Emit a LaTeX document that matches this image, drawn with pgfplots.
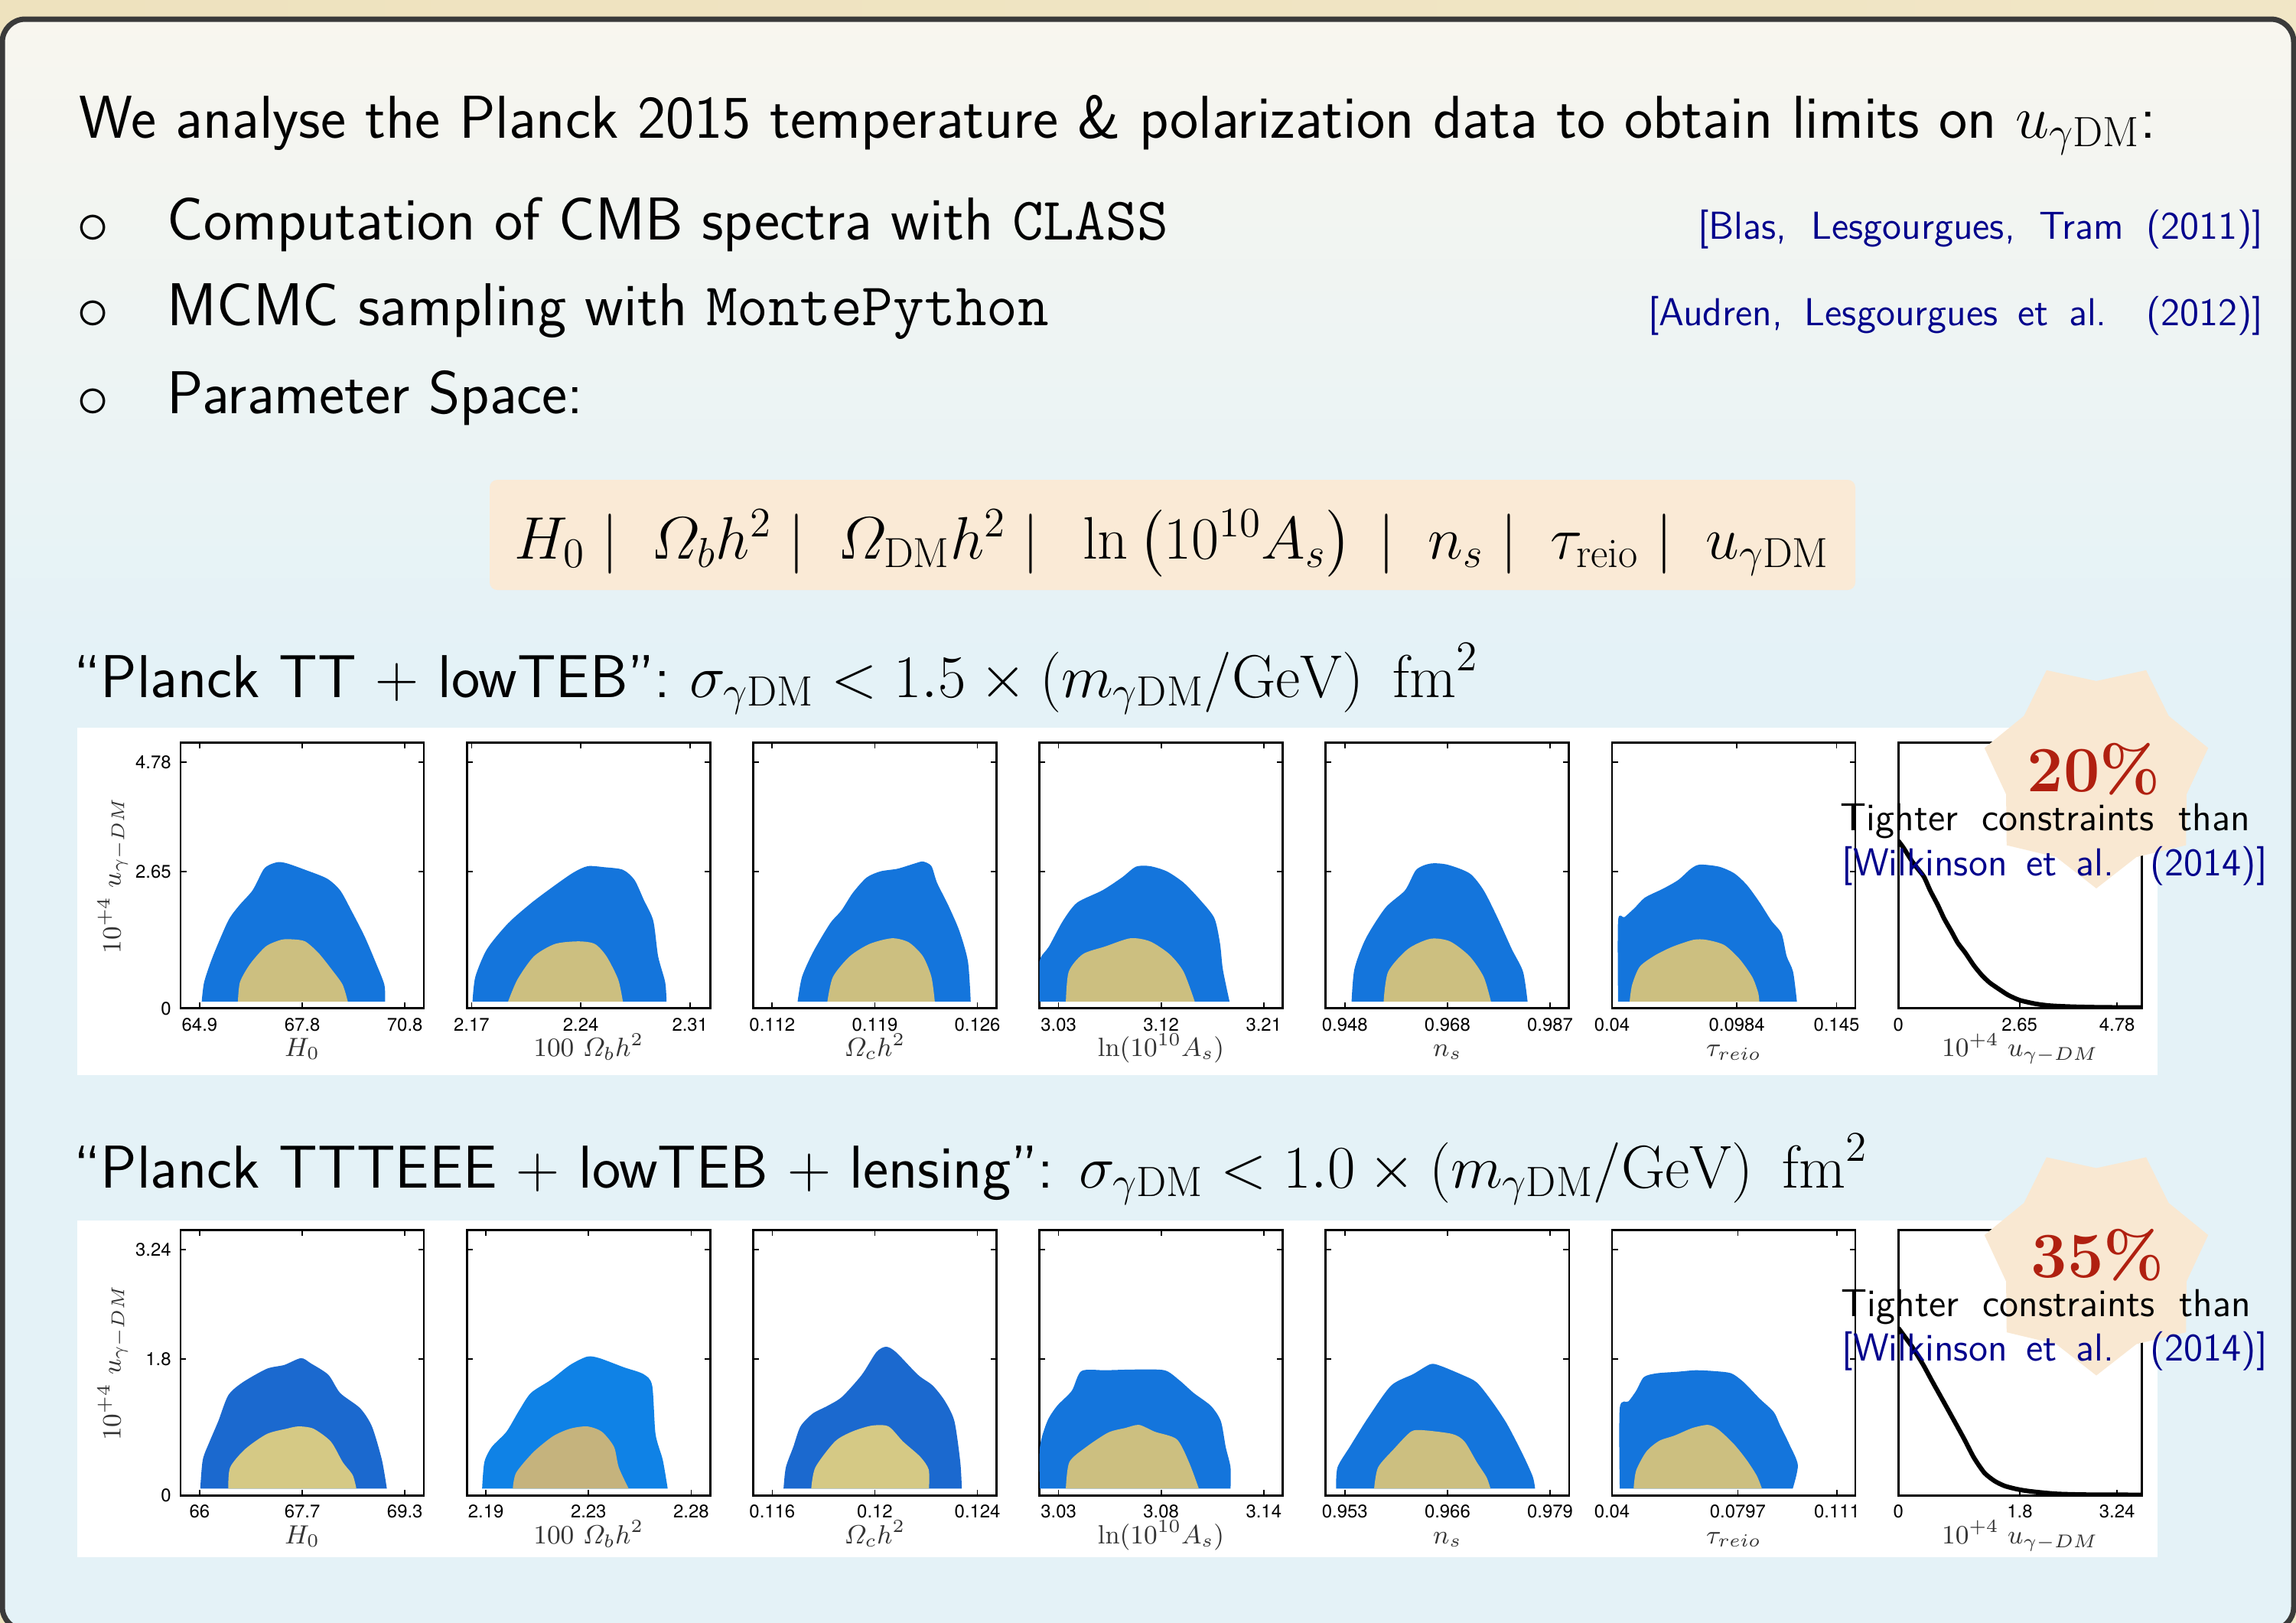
\RequirePackage{fix-cm}
\documentclass[border=0pt]{standalone}
\usepackage{amsmath}
\usepackage{fontspec}
\usepackage{pgfplots}
\pgfplotsset{compat=1.18}
\newfontfamily\tickfont{TeX Gyre Heros}

\definecolor{framegray}{HTML}{3A3A3A}
\definecolor{citeblue}{HTML}{00008C}
\definecolor{peach}{HTML}{FAEAD6}
\definecolor{starpeach}{HTML}{F9E8D2}
\definecolor{pctred}{HTML}{B02010}
\definecolor{labgray}{HTML}{333333}
\definecolor{bgA}{HTML}{EEE2BE}
\definecolor{bgB}{HTML}{DDECEF}
\definecolor{bgC}{HTML}{F1E6C6}
\definecolor{bgcream}{HTML}{F8F6EF}
\definecolor{bgblue}{HTML}{E4F2F7}
% contour colours
\definecolor{cblue}{HTML}{1475DC}
\definecolor{ctan}{HTML}{CCBF80}
\definecolor{cblueD}{HTML}{1B69CF}
\definecolor{ctanL}{HTML}{D5C985}
\definecolor{cblueL}{HTML}{0F82E6}
\definecolor{ctanD}{HTML}{C5B37D}

\newcommand{\mainfnt}{\sffamily\fontsize{22.5}{27}\selectfont}
\newcommand{\citefnt}{\sffamily\fontsize{14.5}{17}\selectfont}
\newcommand{\boxfnt}{\fontsize{22.3}{27}\selectfont}
\newcommand{\pctfnt}{\rmfamily\bfseries\fontsize{24}{26}\selectfont}
\newcommand{\tickfnt}{\tickfont\fontsize{6.8}{8}\selectfont}
\newcommand{\labfnt}{\fontsize{9.8}{11}\selectfont}
\newcommand{\bul}{\fontsize{24}{24}\selectfont$\circ$}

\pgfplotsset{
  panel/.style={
    anchor=north west, scale only axis, width=3.18cm, height=3.47cm,
    axis background/.style={fill=white},
    axis line style={line width=0.75pt, black},
    every tick/.append style={line width=0.5pt, black},
    major tick length=0.075cm,
    tick align=inside,
    ymin=0,
    yticklabels={,,},
    xticklabel style={font=\tickfnt},
    yticklabel style={font=\tickfnt},
    every axis x label/.append style={font=\labfnt, text=labgray, inner sep=1pt, text height=7pt, text depth=2.5pt},
    every axis y label/.append style={font=\labfnt, text=labgray},
    xlabel shift=-2pt, ylabel shift=-4pt,
  },
  rowA/.style={ymax=5.155, ytick={0,2.65,4.78}},
  rowB/.style={ymax=3.50, ytick={0,1.8,3.24}},
  post/.style={ymax=1.3, ytick=\empty, xmin=0},
  c95/.style={draw=none, fill=#1, smooth, tension=0.45},
  c68/.style={draw=none, fill=#1, smooth, tension=0.45},
  pline/.style={black, line width=1.7pt, smooth, tension=0.4},
}

\begin{document}
\begin{tikzpicture}
\useasboundingbox (0,0) rectangle (30.01,-21.21);
\clip (0,0) rectangle (30.01,-21.21);

% backdrop and slide frame
\shade[left color=bgA, middle color=bgB, right color=bgC] (0,0) rectangle (30.01,-21.21);
\fill[bgblue, rounded corners=0.3cm] (0.03,-0.25) rectangle (29.98,-21.30);
\shade[top color=bgcream, bottom color=bgblue, rounded corners=0.3cm] (0.03,-0.25) rectangle (29.98,-8.6);
\draw[framegray, line width=0.07cm, rounded corners=0.3cm] (0.03,-0.25) rectangle (29.98,-21.30);

% text block
\node[anchor=base west, inner sep=0] at (1.03,-1.80) {\mainfnt We analyse the Planck 2015 temperature \& polarization data to obtain limits on $u_{\gamma\mathrm{DM}}$:};

\node[inner sep=0] at (1.22,-3.00) {\bul};
\node[anchor=base west, inner sep=0] at (2.18,-3.13) {\mainfnt Computation of CMB spectra with \texttt{CLASS}};
\node[inner sep=0] at (1.22,-4.12) {\bul};
\node[anchor=base west, inner sep=0] at (2.18,-4.25) {\mainfnt MCMC sampling with \texttt{MontePython}};
\node[inner sep=0] at (1.22,-5.27) {\bul};
\node[anchor=base west, inner sep=0] at (2.18,-5.40) {\mainfnt Parameter Space:};

\node[anchor=base east, inner sep=0, text=citeblue] at (29.59,-3.12) {\citefnt\makebox[7.39cm][s]{[Blas, Lesgourgues, Tram (2011)]}};
\node[anchor=base east, inner sep=0, text=citeblue] at (29.59,-4.25) {\citefnt\makebox[8.04cm][s]{[Audren, Lesgourgues et al. (2012)]}};

% parameter box
\fill[peach, rounded corners=0.1cm] (6.40,-6.27) rectangle (24.25,-7.71);
\node[anchor=base, inner sep=0] at (15.32,-7.30) {\boxfnt $H_0\;|\;\;\varOmega_b h^2\;|\;\;\varOmega_{\mathrm{DM}}h^2\;|\;\;\ln\left(10^{10}A_s\right)\;|\;\;n_s\;|\;\;\tau_{\mathrm{reio}}\;|\;\;u_{\gamma\mathrm{DM}}$};

% headings
\node[anchor=base west, inner sep=0] at (0.96,-9.11) {\mainfnt ``Planck TT $+$ lowTEB'': $\sigma_{\gamma\mathrm{DM}}<1.5\times\left(m_{\gamma\mathrm{DM}}/\mathrm{GeV}\right)\ \mathrm{fm}^2$};
\node[anchor=base west, inner sep=0] at (0.96,-15.52) {\mainfnt ``Planck TTTEEE $+$ lowTEB $+$ lensing'': $\sigma_{\gamma\mathrm{DM}}<1.0\times\left(m_{\gamma\mathrm{DM}}/\mathrm{GeV}\right)\ \mathrm{fm}^2$};

% white panels behind the triangle rows
\fill[white] (1.01,-9.51) rectangle (28.20,-14.05);
\fill[white] (1.01,-15.95) rectangle (28.20,-20.35);

%%%%%%%%%%%%%%%% Row 1: Planck TT + lowTEB %%%%%%%%%%%%%%%%
\begin{axis}[panel, rowA, at={(2.360cm,-9.707cm)},
  xmin=64.351, xmax=71.346, xtick={64.9,67.85,70.8}, xticklabels={64.9,67.8,70.8},
  yticklabels={0,2.65,4.78}, xlabel={$H_0$}, ylabel={$10^{+4}\ u_{\gamma-DM}$}]
\addplot[c95=cblue] coordinates {(64.96,0.13) (65.03,0.51) (65.28,1.01) (65.72,1.70) (66.04,2.00) (66.42,2.29) (66.73,2.69) (66.92,2.79) (67.17,2.84) (67.43,2.81) (67.93,2.69) (68.56,2.52) (68.94,2.29) (69.26,1.90) (69.64,1.40) (69.95,0.91) (70.21,0.46) (70.23,0.13)};
\addplot[c68=ctan] coordinates {(66.00,0.13) (66.06,0.51) (66.35,0.86) (66.80,1.20) (67.24,1.33) (67.55,1.34) (67.93,1.30) (68.31,1.08) (68.69,0.76) (69.01,0.46) (69.16,0.13)};
\end{axis}

\begin{axis}[panel, rowA, at={(6.102cm,-9.707cm)},
  xmin=2.16697, xmax=2.32295, xtick={2.17,2.24,2.31}, xticklabels={2.17,2.24,2.31},
  xlabel={$100\ \varOmega_b h^2$}]
\addplot[c95=cblue] coordinates {(2.1706,0.13) (2.1724,0.61) (2.1799,1.15) (2.1934,1.65) (2.2085,2.05) (2.2235,2.39) (2.2355,2.64) (2.2445,2.76) (2.2550,2.74) (2.2670,2.69) (2.2745,2.49) (2.2805,2.10) (2.2865,1.70) (2.2896,1.01) (2.2941,0.51) (2.2950,0.13)};
\addplot[c68=ctan] coordinates {(2.1934,0.13) (2.1994,0.56) (2.2100,1.01) (2.2235,1.25) (2.2385,1.30) (2.2490,1.25) (2.2565,1.01) (2.2640,0.56) (2.2670,0.13)};
\end{axis}

\begin{axis}[panel, rowA, at={(9.844cm,-9.707cm)},
  xmin=0.110697, xmax=0.127295, xtick={0.112,0.119,0.126}, xticklabels={0.112,0.119,0.126},
  xlabel={$\varOmega_c h^2$}]
\addplot[c95=cblue] coordinates {(0.11373,0.13) (0.11403,0.61) (0.11480,1.10) (0.11595,1.65) (0.11672,1.90) (0.11749,2.24) (0.11844,2.54) (0.11940,2.66) (0.12055,2.71) (0.12170,2.81) (0.12228,2.85) (0.12286,2.76) (0.12324,2.44) (0.12401,2.00) (0.12477,1.50) (0.12535,0.91) (0.12554,0.13)};
\addplot[c68=ctan] coordinates {(0.11576,0.13) (0.11614,0.61) (0.11729,1.01) (0.11864,1.25) (0.12017,1.36) (0.12132,1.28) (0.12228,1.01) (0.12286,0.61) (0.12309,0.13)};
\end{axis}

\begin{axis}[panel, rowA, at={(13.586cm,-9.707cm)},
  xmin=3.01324, xmax=3.22665, xtick={3.03,3.12,3.21}, xticklabels={3.03,3.12,3.21},
  xlabel={$\ln(10^{10}A_s)$}]
\addplot[c95=cblue] coordinates {(3.0133,0.13) (3.0133,0.91) (3.0216,1.20) (3.0339,1.70) (3.0462,2.05) (3.0684,2.29) (3.0856,2.54) (3.0979,2.75) (3.1102,2.76) (3.1249,2.66) (3.1397,2.44) (3.1544,2.10) (3.1667,1.75) (3.1717,1.25) (3.1741,0.76) (3.1800,0.13)};
\addplot[c68=ctan] coordinates {(3.0364,0.13) (3.0389,0.71) (3.0512,1.05) (3.0708,1.20) (3.0930,1.36) (3.1102,1.30) (3.1274,1.05) (3.1397,0.71) (3.1495,0.13)};
\end{axis}

\begin{axis}[panel, rowA, at={(17.328cm,-9.707cm)},
  xmin=0.944369, xmax=0.990608, xtick={0.948,0.9675,0.987}, xticklabels={0.948,0.968,0.987},
  xlabel={$n_s$}]
\addplot[c95=cblue] coordinates {(0.94928,0.13) (0.94982,0.76) (0.95195,1.35) (0.95569,1.95) (0.95943,2.29) (0.96157,2.69) (0.96424,2.81) (0.96745,2.79) (0.97172,2.62) (0.97439,2.29) (0.97706,1.75) (0.97973,1.15) (0.98187,0.71) (0.98273,0.13)};
\addplot[c68=ctan] coordinates {(0.95537,0.13) (0.95623,0.71) (0.95997,1.15) (0.96424,1.35) (0.96798,1.30) (0.97172,1.01) (0.97439,0.61) (0.97578,0.13)};
\end{axis}

\begin{axis}[panel, rowA, at={(21.070cm,-9.707cm)},
  xmin=0.04, xmax=0.1538, xtick={0.04,0.0984,0.145}, xticklabels={0.04,0.0984,0.145},
  xlabel={$\tau_{reio}$}]
\addplot[c95=cblue] coordinates {(0.04284,0.13) (0.04284,1.70) (0.04583,1.77) (0.05061,1.95) (0.05539,2.15) (0.06375,2.32) (0.07092,2.49) (0.07689,2.71) (0.08107,2.79) (0.09004,2.75) (0.09721,2.62) (0.10318,2.39) (0.10915,2.05) (0.11453,1.70) (0.11930,1.45) (0.12170,1.01) (0.12469,0.71) (0.12648,0.13)};
\addplot[c68=ctan] coordinates {(0.04822,0.13) (0.04941,0.46) (0.05300,0.81) (0.06017,1.03) (0.06853,1.20) (0.07809,1.33) (0.08406,1.33) (0.09243,1.23) (0.09959,0.96) (0.10557,0.61) (0.10832,0.31) (0.10891,0.13)};
\end{axis}

\begin{axis}[panel, post, at={(24.812cm,-9.707cm)},
  xmax=5.317, xtick={0,2.65,4.78}, xticklabels={0,2.65,4.78},
  xlabel={$10^{+4}\ u_{\gamma-DM}$}]
\addplot[pline] coordinates {(0,0.82) (0.1,0.79) (0.2,0.755) (0.3,0.72) (0.4,0.69) (0.56,0.644) (0.7,0.575) (0.86,0.507) (1.0,0.44) (1.16,0.377) (1.3,0.32) (1.46,0.273) (1.65,0.21) (1.83,0.161) (2.0,0.125) (2.2,0.094) (2.4,0.065) (2.65,0.040) (3.0,0.022) (3.32,0.013) (3.8,0.008) (4.44,0.005) (5.32,0.004)};
\end{axis}

%%%%%%%%%%%%%%%% Row 2: Planck TTTEEE + lowTEB + lensing %%%%%%%%%%%%%%%%
\begin{axis}[panel, rowB, at={(2.360cm,-16.073cm)},
  xmin=65.693, xmax=69.605, xtick={66,67.65,69.3}, xticklabels={66,67.7,69.3},
  yticklabels={0,1.8,3.24}, xlabel={$H_0$}, ylabel={$10^{+4}\ u_{\gamma-DM}$}]
\addplot[c95=cblueD] coordinates {(66.01,0.09) (66.05,0.47) (66.16,0.71) (66.30,0.98) (66.46,1.32) (66.69,1.49) (67.08,1.67) (67.36,1.72) (67.63,1.81) (67.79,1.74) (68.07,1.59) (68.26,1.35) (68.58,1.15) (68.77,0.91) (68.93,0.47) (69.01,0.09)};
\addplot[c68=ctanL] coordinates {(66.46,0.09) (66.49,0.37) (66.73,0.61) (67.08,0.81) (67.40,0.88) (67.59,0.91) (67.83,0.88) (68.11,0.71) (68.30,0.44) (68.46,0.27) (68.52,0.09)};
\end{axis}

\begin{axis}[panel, rowB, at={(6.102cm,-16.073cm)},
  xmin=2.17853, xmax=2.28642, xtick={2.187,2.2325,2.278}, xticklabels={2.19,2.23,2.28},
  xlabel={$100\ \varOmega_b h^2$}]
\addplot[c95=cblueL] coordinates {(2.1853,0.09) (2.1863,0.44) (2.1896,0.64) (2.1961,0.84) (2.2015,1.11) (2.2069,1.35) (2.2156,1.52) (2.2243,1.72) (2.2319,1.83) (2.2373,1.81) (2.2481,1.69) (2.2568,1.60) (2.2607,1.45) (2.2622,0.81) (2.2654,0.47) (2.2676,0.09)};
\addplot[c68=ctanD] coordinates {(2.1989,0.09) (2.2004,0.30) (2.2080,0.57) (2.2167,0.78) (2.2243,0.88) (2.2319,0.91) (2.2384,0.84) (2.2438,0.64) (2.2459,0.37) (2.2503,0.09)};
\end{axis}

\begin{axis}[panel, rowB, at={(9.844cm,-16.073cm)},
  xmin=0.115255, xmax=0.12474, xtick={0.116,0.12,0.124}, xticklabels={0.116,0.12,0.124},
  xlabel={$\varOmega_c h^2$}]
\addplot[c95=cblueD] coordinates {(0.11644,0.09) (0.11653,0.37) (0.11682,0.64) (0.11710,0.91) (0.11758,1.08) (0.11815,1.18) (0.11872,1.30) (0.11949,1.59) (0.12006,1.89) (0.12044,1.96) (0.12082,1.89) (0.12168,1.59) (0.12225,1.45) (0.12272,1.25) (0.12310,0.98) (0.12333,0.44) (0.12339,0.09)};
\addplot[c68=ctanL] coordinates {(0.11752,0.09) (0.11768,0.37) (0.11844,0.71) (0.11910,0.84) (0.11987,0.92) (0.12053,0.91) (0.12110,0.71) (0.12177,0.51) (0.12210,0.34) (0.12211,0.09)};
\end{axis}

\begin{axis}[panel, rowB, at={(13.586cm,-16.073cm)},
  xmin=3.01776, xmax=3.14818, xtick={3.028,3.083,3.138}, xticklabels={3.03,3.08,3.14},
  xlabel={$\ln(10^{10}A_s)$}]
\addplot[c95=cblue] coordinates {(3.0180,0.09) (3.0180,0.64) (3.0220,0.98) (3.0272,1.18) (3.0351,1.38) (3.0403,1.64) (3.0534,1.65) (3.0691,1.66) (3.0848,1.65) (3.0927,1.52) (3.1005,1.35) (3.1097,1.18) (3.1150,0.98) (3.1176,0.64) (3.1202,0.37) (3.1202,0.09)};
\addplot[c68=ctan] coordinates {(3.0319,0.09) (3.0338,0.44) (3.0429,0.64) (3.0547,0.83) (3.0639,0.89) (3.0712,0.93) (3.0796,0.84) (3.0914,0.74) (3.0979,0.44) (3.1032,0.09)};
\end{axis}

\begin{axis}[panel, rowB, at={(17.328cm,-16.073cm)},
  xmin=0.95058, xmax=0.9814, xtick={0.953,0.966,0.979}, xticklabels={0.953,0.966,0.979},
  xlabel={$n_s$}]
\addplot[c95=cblue] coordinates {(0.95189,0.09) (0.95207,0.37) (0.95362,0.64) (0.95610,1.05) (0.95888,1.45) (0.96167,1.60) (0.96383,1.73) (0.96507,1.71) (0.96786,1.59) (0.96971,1.49) (0.97157,1.25) (0.97350,0.95) (0.97550,0.55) (0.97680,0.25) (0.97710,0.09)};
\addplot[c68=ctan] coordinates {(0.95671,0.09) (0.95721,0.37) (0.95919,0.61) (0.96136,0.84) (0.96290,0.86) (0.96662,0.81) (0.96817,0.71) (0.96971,0.44) (0.97095,0.24) (0.97145,0.09)};
\end{axis}

\begin{axis}[panel, rowB, at={(21.070cm,-16.073cm)},
  xmin=0.04, xmax=0.1168, xtick={0.04,0.0797,0.111}, xticklabels={0.04,0.0797,0.111},
  xlabel={$\tau_{reio}$}]
\addplot[c95=cblue] coordinates {(0.04243,0.09) (0.04243,1.15) (0.04519,1.24) (0.04762,1.38) (0.05005,1.56) (0.05410,1.61) (0.06058,1.63) (0.06625,1.65) (0.07192,1.64) (0.07760,1.61) (0.08165,1.49) (0.08651,1.28) (0.09105,1.10) (0.09299,0.93) (0.09591,0.68) (0.09866,0.40) (0.09704,0.09)};
\addplot[c68=ctan] coordinates {(0.04681,0.09) (0.04762,0.33) (0.05086,0.58) (0.05491,0.72) (0.05977,0.79) (0.06544,0.89) (0.07030,0.93) (0.07354,0.87) (0.07841,0.68) (0.08246,0.47) (0.08570,0.26) (0.08732,0.09)};
\end{axis}

\begin{axis}[panel, post, at={(24.812cm,-16.073cm)},
  xmax=3.604, xtick={0,1.8,3.24}, xticklabels={0,1.8,3.24},
  xlabel={$10^{+4}\ u_{\gamma-DM}$}]
\addplot[pline] coordinates {(0,0.82) (0.1,0.775) (0.2,0.73) (0.365,0.642) (0.5,0.56) (0.669,0.46) (0.82,0.37) (0.973,0.278) (1.12,0.185) (1.277,0.11) (1.43,0.07) (1.58,0.046) (1.77,0.03) (1.96,0.02) (2.34,0.008) (2.8,0.004) (3.6,0.003)};
\end{axis}

% badges
\fill[starpeach, shift={(27.40,-10.11)}] (270:1.50) -- (295.7:1.21) -- (321.4:1.50) -- (347.1:1.21) -- (12.9:1.50) -- (38.6:1.21) -- (64.3:1.50) -- (90:1.21) -- (115.7:1.50) -- (141.4:1.21) -- (167.1:1.50) -- (192.9:1.21) -- (218.6:1.50) -- (244.3:1.21) -- cycle;
\node[anchor=base, inner sep=0, text=pctred] at (27.37,-10.34) {\pctfnt 20\%};
\node[anchor=base west, inner sep=0] at (24.05,-10.85) {\citefnt\makebox[5.35cm][s]{Tighter constraints than}};
\node[anchor=base west, inner sep=0, text=citeblue] at (24.07,-11.44) {\citefnt\makebox[5.56cm][s]{[Wilkinson et al. (2014)]}};

\fill[starpeach, shift={(27.40,-16.475)}] (270:1.50) -- (295.7:1.21) -- (321.4:1.50) -- (347.1:1.21) -- (12.9:1.50) -- (38.6:1.21) -- (64.3:1.50) -- (90:1.21) -- (115.7:1.50) -- (141.4:1.21) -- (167.1:1.50) -- (192.9:1.21) -- (218.6:1.50) -- (244.3:1.21) -- cycle;
\node[anchor=base, inner sep=0, text=pctred] at (27.42,-16.69) {\pctfnt 35\%};
\node[anchor=base west, inner sep=0] at (24.06,-17.20) {\citefnt\makebox[5.35cm][s]{Tighter constraints than}};
\node[anchor=base west, inner sep=0, text=citeblue] at (24.07,-17.78) {\citefnt\makebox[5.56cm][s]{[Wilkinson et al. (2014)]}};
\end{tikzpicture}
\end{document}
